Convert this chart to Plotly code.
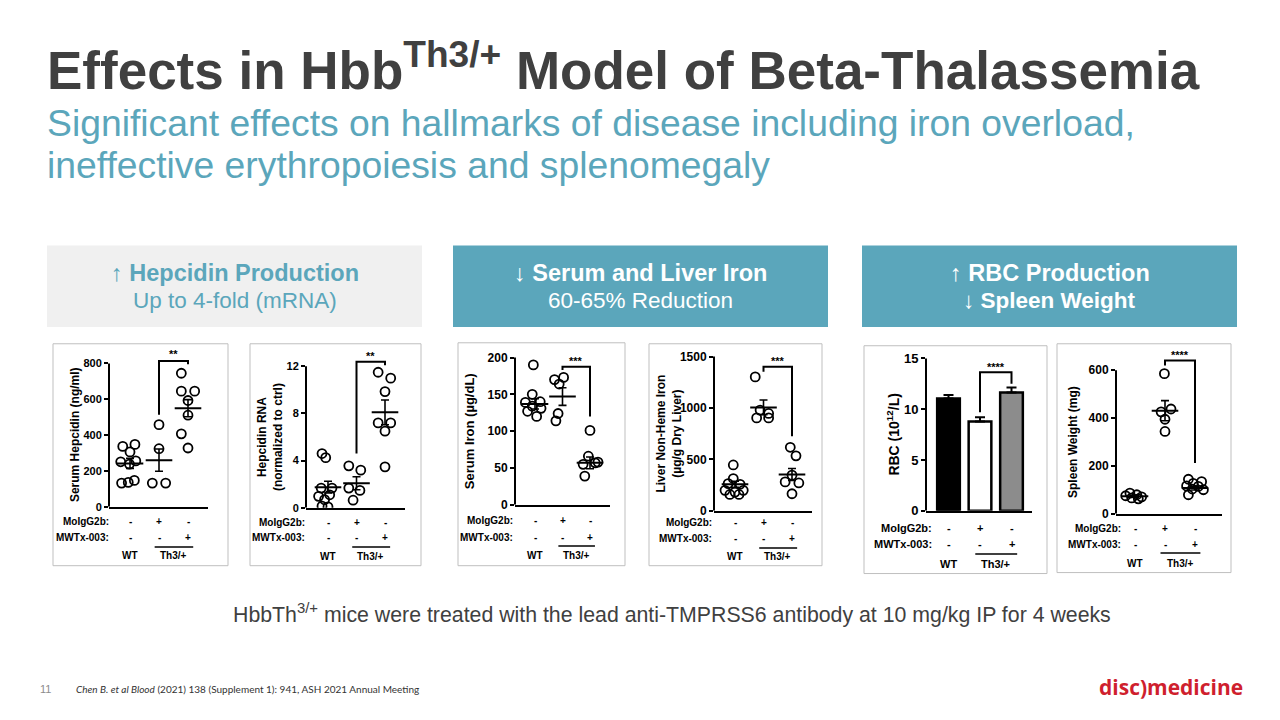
import plotly.graph_objects as go

W, H = 1280, 720


def px(x):
    return x / W


def py(y):
    return 1 - y / H


# ------------------------------------------------------------------ data
row_moigg = ["-", "+", "-"]
row_mwtx = ["-", "-", "+"]
row_labels = ["MoIgG2b:", "MWTx-003:"]
genotype_labels = ["WT", "Th3/+"]

# Serum hepcidin (ng/ml): WT, Th3/+ MoIgG2b, Th3/+ MWTx-003
serum_hep_pts = [
    [337, 348, 306, 251, 256, 238, 132, 147, 136],
    [458, 324, 132, 132],
    [745, 645, 645, 593, 511, 407, 328],
]
serum_hep_jit = [
    [-0.25, 0.17, 0.0, -0.32, 0.2, -0.02, -0.29, 0.15, -0.06],
    [0.0, 0.0, -0.23, 0.23],
    [-0.23, -0.23, 0.23, 0.0, 0.0, -0.23, 0.0],
]
serum_hep_mean = [242, 260, 550]
serum_hep_sem = [28, 62, 48]
serum_hep_bracket = [513, 813, 795]
serum_hep_star = 850

# Hepcidin RNA (normalized to ctrl)
hep_rna_pts = [
    [4.6, 4.25, 1.67, 1.67, 0.97, 1.1, 0.69, 0.14, 0.08],
    [3.56, 3.19, 1.67, 1.47, 0.64],
    [11.5, 11.0, 9.86, 7.2, 7.2, 6.5, 3.47],
]
hep_rna_jit = [
    [-0.21, -0.08, -0.24, 0.14, -0.33, 0.06, -0.12, -0.21, 0.0],
    [-0.27, 0.15, -0.27, 0.12, -0.12],
    [-0.24, 0.2, 0.0, -0.24, 0.2, 0.0, 0.0],
]
hep_rna_mean = [1.75, 2.08, 8.1]
hep_rna_sem = [0.5, 0.55, 1.05]
hep_rna_bracket = [4.6, 12.4, 12.1]
hep_rna_star = 12.85

# Serum iron (ug/dL)
serum_iron_pts = [
    [190, 150, 139, 140, 134, 131, 127, 120],
    [170, 173, 164, 124, 114],
    [101, 66, 57, 55, 58, 39],
]
serum_iron_jit = [
    [-0.06, -0.1, -0.35, 0.19, -0.1, 0.22, -0.27, 0.06],
    [-0.29, 0.04, -0.12, -0.16, -0.24],
    [0.0, -0.06, 0.19, -0.25, 0.29, -0.19],
]
serum_iron_mean = [137, 147, 57]
serum_iron_sem = [7, 12, 8]
serum_iron_bracket = [183, 187.5, 120]
serum_iron_star = 195

# Liver non-heme iron (ug/g dry liver)
liver_iron_pts = [
    [445, 313, 264, 257, 198, 181, 198, 158, 158],
    [1302, 979, 946, 903, 903],
    [617, 534, 346, 280, 270, 165],
]
liver_iron_jit = [
    [-0.06, -0.06, -0.24, 0.18, -0.35, 0.0, 0.29, -0.18, 0.14],
    [-0.29, -0.12, 0.18, -0.24, 0.18],
    [-0.06, 0.14, 0.0, -0.24, 0.24, 0.0],
]
liver_iron_mean = [257, 1005, 353]
liver_iron_sem = [30, 72, 58]
liver_iron_bracket = [1352, 1401, 725]
liver_iron_star = 1460

# RBC (10^12/L), mean and SEM
rbc_mean = [11.05, 8.8, 11.65]
rbc_sem = [0.35, 0.4, 0.5]
rbc_colors = ["#000000", "#ffffff", "#8c8c8c"]
rbc_bracket = [9.7, 13.65, 12.5]
rbc_star = 14.15

# Spleen weight (mg)
spleen_pts = [
    [86, 79, 70, 66, 75, 62],
    [586, 438, 426, 395, 344],
    [144, 134, 127, 116, 114, 103, 100, 79],
]
spleen_jit = [
    [-0.17, 0.06, 0.22, -0.11, -0.31, 0.11],
    [-0.02, 0.2, -0.13, 0.0, 0.0],
    [-0.22, 0.22, -0.06, -0.28, 0.11, -0.09, 0.28, -0.22],
]
spleen_mean = [73, 431, 107]
spleen_sem = [4, 42, 8]
spleen_bracket = [620, 641, 212]
spleen_star = 665

# ------------------------------------------------------------------ panels
panels = [
    dict(kind="dots", pts=serum_hep_pts, jit=serum_hep_jit, mean=serum_hep_mean, sem=serum_hep_sem,
         brk=serum_hep_bracket, star_y=serum_hep_star, star="**",
         ytitle="Serum Hepcidin (ng/ml)", ticks=[0, 200, 400, 600, 800], ytop=800, yext=880,
         box=(53, 345, 228, 571), axl=109, axr=208, c0=130, c2=188, ybot=511, ytp=365,
         tx=75, rows=(526, 542, 552, 561), lab_r=111, fs=(11, 12, 10)),
    dict(kind="dots", pts=hep_rna_pts, jit=hep_rna_jit, mean=hep_rna_mean, sem=hep_rna_sem,
         brk=hep_rna_bracket, star_y=hep_rna_star, star="**",
         ytitle="Hepcidin RNA<br>(normalized to ctrl)", ticks=[0, 4, 8, 12], ytop=12, yext=13.4,
         box=(250, 345, 421, 571), axl=306, axr=405, c0=328, c2=385, ybot=512, ytp=368,
         tx=270, rows=(527, 542, 552, 562), lab_r=307, fs=(11, 12, 10)),
    dict(kind="dots", pts=serum_iron_pts, jit=serum_iron_jit, mean=serum_iron_mean, sem=serum_iron_sem,
         brk=serum_iron_bracket, star_y=serum_iron_star, star="***",
         ytitle="Serum Iron (\u00b5g/dL)", ticks=[0, 50, 100, 150, 200], ytop=200, yext=206,
         box=(458, 344, 625, 571), axl=515, axr=610, c0=535, c2=590, ybot=509, ytp=359,
         tx=469, rows=(525, 542, 551, 561), lab_r=515, fs=(12, 13, 10)),
    dict(kind="dots", pts=liver_iron_pts, jit=liver_iron_jit, mean=liver_iron_mean, sem=liver_iron_sem,
         brk=liver_iron_bracket, star_y=liver_iron_star, star="***",
         ytitle="Liver Non-Heme Iron<br>(\u00b5g/g Dry Liver)", ticks=[0, 500, 1000, 1500], ytop=1500, yext=1520,
         box=(649, 345, 822, 571), axl=714, axr=812, c0=735, c2=792, ybot=515, ytp=358,
         tx=669, rows=(527, 543, 553, 562), lab_r=714, fs=(12, 12, 10)),
    dict(kind="bars", mean=rbc_mean, sem=rbc_sem, colors=rbc_colors,
         brk=rbc_bracket, star_y=rbc_star, star="****",
         ytitle="RBC (10<sup>12</sup>/L)", ticks=[0, 5, 10, 15], ytop=15, yext=15.3,
         box=(864, 347, 1047, 579), axl=926, axr=1032, c0=948.5, c2=1011.5, ybot=515, ytp=360,
         tx=893, rows=(533, 549, 559, 569), lab_r=934, fs=(13, 14, 11)),
    dict(kind="dots", pts=spleen_pts, jit=spleen_jit, mean=spleen_mean, sem=spleen_sem,
         brk=spleen_bracket, star_y=spleen_star, star="****",
         ytitle="Spleen Weight (mg)", ticks=[0, 200, 400, 600], ytop=600, yext=680,
         box=(1057, 345, 1231, 578), axl=1116, axr=1222, c0=1135, c2=1195, ybot=518, ytp=372,
         tx=1073, rows=(533, 549, 558, 569), lab_r=1123, fs=(12, 12, 10)),
]

fig = go.Figure()
shapes = []
annotations = []
layout_axes = {}

TEAL = "#5ba6bb"
DARK = "#404040"


def note(**kw):
    base = dict(showarrow=False, xanchor="center", yanchor="middle")
    base.update(kw)
    return base


for i, p in enumerate(panels, start=1):
    sfx = "" if i == 1 else str(i)
    xa, ya = "x" + sfx, "y" + sfx
    unit = (p["c2"] - p["c0"]) / 2
    xr = [(p["axl"] - p["c0"]) / unit, (p["axr"] - p["c0"]) / unit]
    top_px = p["ybot"] - (p["ybot"] - p["ytp"]) * p["yext"] / p["ytop"]
    tick_fs, title_fs, row_fs = p["fs"]

    layout_axes["xaxis" + sfx] = dict(
        domain=[px(p["axl"]), px(p["axr"])], range=xr, anchor=ya,
        showline=True, linewidth=2, linecolor="black", showticklabels=False,
        ticks="", showgrid=False, zeroline=False, fixedrange=True)
    layout_axes["yaxis" + sfx] = dict(
        domain=[py(p["ybot"]), py(top_px)], range=[0, p["yext"]], anchor=xa,
        showline=False, tickvals=p["ticks"], ticktext=[f"<b>{t}</b>" for t in p["ticks"]],
        ticks="outside", ticklen=4, tickwidth=2, tickcolor="black",
        tickfont=dict(size=tick_fs, color="black"), showgrid=False, zeroline=False,
        fixedrange=True)

    # y axis line up to the top tick
    shapes.append(dict(type="line", xref=xa + " domain", yref=ya, x0=0, x1=0, y0=0, y1=p["ytop"],
                       line=dict(color="black", width=2)))

    if p["kind"] == "dots":
        xs, ys = [], []
        for k in range(3):
            xs += [k + j for j in p["jit"][k]]
            ys += p["pts"][k]
        fig.add_trace(go.Scatter(
            x=xs, y=ys, mode="markers", xaxis=xa, yaxis=ya, showlegend=False,
            marker=dict(symbol="circle-open", size=9, color="black", line=dict(width=1.8, color="black"))))
        fig.add_trace(go.Scatter(
            x=[0, 1, 2], y=p["mean"], mode="markers", xaxis=xa, yaxis=ya, showlegend=False,
            marker=dict(symbol="line-ew", size=19, color="black", line=dict(width=2, color="black")),
            error_y=dict(type="data", array=p["sem"], width=4, thickness=1.6, color="black")))
    else:
        fig.add_trace(go.Bar(
            x=[0, 1, 2], y=p["mean"], width=0.72, xaxis=xa, yaxis=ya, showlegend=False,
            marker=dict(color=p["colors"], line=dict(color="black", width=2.5)),
            error_y=dict(type="data", symmetric=False, array=p["sem"], arrayminus=[0, 0, 0],
                         width=5, thickness=2, color="black")))

    # significance bracket between groups 1 and 2
    b0, bt, b1 = p["brk"]
    shapes.append(dict(type="path", xref=xa, yref=ya,
                       path=f"M 1,{b0} L 1,{bt} L 2,{bt} L 2,{b1}",
                       line=dict(color="black", width=2)))
    annotations.append(note(x=1.5, y=p["star_y"], xref=xa, yref=ya, text=f"<b>{p['star']}</b>",
                            font=dict(size=11, color="black")))

    # treatment table
    r1, r2, rl, rg = p["rows"]
    for k in range(3):
        annotations.append(note(x=k, y=py(r1), xref=xa, yref="paper", text=f"<b>{row_moigg[k]}</b>",
                                font=dict(size=row_fs, color="black")))
        annotations.append(note(x=k, y=py(r2), xref=xa, yref="paper", text=f"<b>{row_mwtx[k]}</b>",
                                font=dict(size=row_fs, color="black")))
    for lab, yy in zip(row_labels, (r1, r2)):
        annotations.append(note(x=px(p["lab_r"]), y=py(yy), xref="paper", yref="paper",
                                text=f"<b>{lab}</b>", xanchor="right",
                                font=dict(size=row_fs, color="black")))
    annotations.append(note(x=0, y=py(rg), xref=xa, yref="paper", text=f"<b>{genotype_labels[0]}</b>",
                            font=dict(size=row_fs, color="black")))
    annotations.append(note(x=1.5, y=py(rg), xref=xa, yref="paper", text=f"<b>{genotype_labels[1]}</b>",
                            font=dict(size=row_fs, color="black")))
    shapes.append(dict(type="line", xref=xa, yref="paper", x0=0.85, x1=2.18, y0=py(rl), y1=py(rl),
                       line=dict(color="black", width=1.5)))

    # y title
    annotations.append(note(x=px(p["tx"]), y=py((p["ytp"] + p["ybot"]) / 2), xref="paper", yref="paper",
                            text=f"<b>{p['ytitle']}</b>", textangle=-90,
                            font=dict(size=title_fs, color="black")))

    # panel frame
    bx0, by0, bx1, by1 = p["box"]
    shapes.append(dict(type="rect", xref="paper", yref="paper", x0=px(bx0), x1=px(bx1),
                       y0=py(by0), y1=py(by1), line=dict(color="#bfbfbf", width=1), layer="below"))

# ------------------------------------------------------------------ slide text
annotations += [
    note(x=px(45), y=py(63), xref="paper", yref="paper", xanchor="left",
         text="<b>Effects in Hbb<sup>Th3/+</sup> Model of Beta-Thalassemia</b>",
         font=dict(size=53, color=DARK)),
    note(x=px(45), y=py(120), xref="paper", yref="paper", xanchor="left",
         text="Significant effects on hallmarks of disease including iron overload,",
         font=dict(size=37.3, color=TEAL)),
    note(x=px(45), y=py(163), xref="paper", yref="paper", xanchor="left",
         text="ineffective erythropoiesis and splenomegaly",
         font=dict(size=37.3, color=TEAL)),
    note(x=px(672), y=py(620), xref="paper", yref="paper",
         text="HbbTh<sup>3/+</sup> mice were treated with the lead anti-TMPRSS6 antibody at 10 mg/kg IP for 4 weeks",
         font=dict(size=21.3, color=DARK)),
    note(x=px(38), y=py(697), xref="paper", yref="paper", xanchor="left",
         text="11", font=dict(size=11, color="#8c8c8c")),
    note(x=px(74), y=py(697), xref="paper", yref="paper", xanchor="left",
         text="<i>Chen B. et al Blood</i> (2021) 138 (Supplement 1): 941, ASH 2021 Annual Meeting",
         font=dict(size=10, color="#333333", family="Lato")),
    note(x=px(1245), y=py(695), xref="paper", yref="paper", xanchor="right",
         text="<b>disc)medicine</b>",
         font=dict(size=21, color="#cf1f2e", family="Open Sans")),
]

# header boxes
header_boxes = [
    (47, 245, 422, 328, "#f0f0f0", TEAL,
     ["<b>\u2191 Hepcidin Production</b>", "Up to 4-fold (mRNA)"]),
    (453, 245, 828, 328, TEAL, "white",
     ["<b>\u2193 Serum and Liver Iron</b>", "60-65% Reduction"]),
    (862, 245, 1237, 328, TEAL, "white",
     ["<b>\u2191 RBC Production</b>", "<b>\u2193 Spleen Weight</b>"]),
]
for x0, y0, x1, y1, fill, tcol, lines in header_boxes:
    shapes.append(dict(type="rect", xref="paper", yref="paper", x0=px(x0), x1=px(x1),
                       y0=py(y0), y1=py(y1), fillcolor=fill, line=dict(width=0), layer="below"))
    for text, yy, fs in zip(lines, (273, 301), (23.5, 22.5)):
        annotations.append(note(x=px((x0 + x1) / 2), y=py(yy), xref="paper", yref="paper",
                                text=text, font=dict(size=fs, color=tcol)))

fig.update_layout(
    width=W, height=H, margin=dict(l=0, r=0, t=0, b=0),
    paper_bgcolor="white", plot_bgcolor="rgba(0,0,0,0)",
    font=dict(family="Liberation Sans, Arial, sans-serif", color="black"),
    shapes=shapes, annotations=annotations, showlegend=False, **layout_axes)

fig.write_html("out.html")
